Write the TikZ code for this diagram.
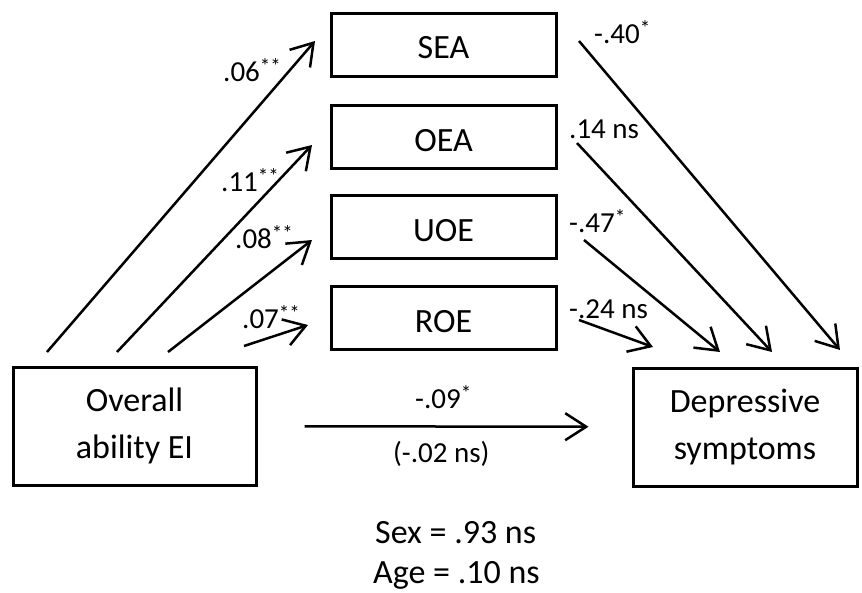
\documentclass[tikz,border=0pt]{standalone}
\usepackage{fontspec}
\setmainfont{Carlito}
\usetikzlibrary{arrows.meta,positioning}
\newcommand{\sig}[1]{\raisebox{8pt}{\fontsize{21}{21}\selectfont #1}}

\begin{document}
\begin{tikzpicture}[x=1pt,y=-1pt,
  box/.style={draw,line width=3pt,minimum width=225pt,minimum height=63pt,inner sep=0pt,align=center,font=\fontsize{34}{47}\selectfont},
  medbox/.style={box,text height=28pt,text depth=0pt},
  coef/.style={inner sep=0pt,anchor=base west,font=\fontsize{29}{34}\selectfont},
  >={Straight Barb[length=21pt,width=27pt]}]
\useasboundingbox (0,0) rectangle (862,592);
\node[medbox] (sea) at (443.5,44.5) {SEA};
\node[medbox] (oea) at (443.5,137) {OEA};
\node[medbox] (uoe) at (443.5,227) {UOE};
\node[medbox] (roe) at (443.5,318) {ROE};
\node[box,minimum width=243pt,minimum height=118pt] (ei) at (134.5,426) {Overall\\ability EI};
\node[box,minimum width=224pt,minimum height=118pt] (dep) at (745,427) {Depressive\\symptoms};
% arrow ends
\coordinate (ei1) at (47,352);
\coordinate (ei2) at (117,352);
\coordinate (ei3) at (168,352);
\coordinate (ei4) at (244,346);
\coordinate (sea-in) at (315,41);
\coordinate (oea-in) at (312,145);
\coordinate (uoe-in) at (312,240);
\coordinate (roe-in) at (308,325);
\coordinate (sea-out) at (579,41);
\coordinate (oea-out) at (577,143);
\coordinate (uoe-out) at (584,240);
\coordinate (roe-out) at (579,320);
\coordinate (dep1) at (840,350);
\coordinate (dep2) at (772,352);
\coordinate (dep3) at (720,352);
\coordinate (dep4) at (653,347);
\path[->,line width=2.5pt]
(ei1) edge (sea-in)
(ei2) edge (oea-in)
(ei3) edge (uoe-in)
(ei4) edge (roe-in)
(sea-out) edge (dep1)
(oea-out) edge (dep2)
(uoe-out) edge (dep3)
(roe-out) edge (dep4)
(ei) edge[shorten <=47pt,shorten >=43pt] (dep);
% coefficients
\node[coef] (a1) at (223,81) {.06\sig{**}};
\node[coef] (a2) at (221,191) {.11\sig{**}};
\node[coef] (a3) at (235,248) {.08\sig{**}};
\node[coef] (a4) at (242,328) {.07\sig{**}};
\node[coef] (b1) at (594,43) {-.40\sig{*}};
\node[coef] (b2) at (569,138) {.14 ns};
\node[coef] (b3) at (569,232) {-.47\sig{*}};
\node[coef] (b4) at (569,318) {-.24 ns};
\node[coef] (c) at (415,408) {-.09\sig{*}};
\node[coef] (c') at (393,462) {(-.02 ns)};
\node[coef,font=\fontsize{34}{40}\selectfont] (sex) at (375,543) {Sex = .93 ns};
\node[coef,font=\fontsize{34}{40}\selectfont] (age) at (373,583) {Age = .10 ns};
\end{tikzpicture}
\end{document}
